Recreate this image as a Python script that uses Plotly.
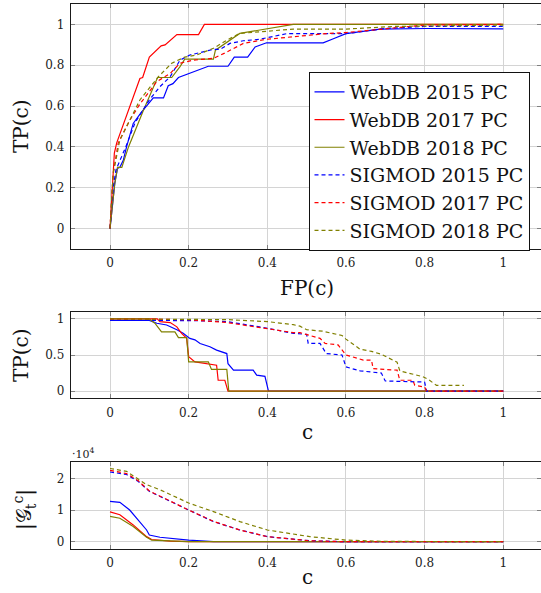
import plotly.graph_objects as go

# ---------------- data ----------------
# ROC (top): FP(c) vs TP(c)
webdb2015_fp = [0, 0.012, 0.019, 0.025, 0.034, 0.042, 0.059, 0.08, 0.11, 0.136, 0.148, 0.16, 0.174, 0.25, 0.30, 0.316, 0.35, 0.369, 0.398, 0.542, 0.568, 0.60, 0.686, 0.805, 1.0]
webdb2015_tp = [0, 0.22, 0.295, 0.30, 0.336, 0.40, 0.515, 0.57, 0.64, 0.64, 0.70, 0.71, 0.74, 0.795, 0.795, 0.84, 0.84, 0.89, 0.91, 0.91, 0.93, 0.955, 0.977, 0.98, 0.978]
webdb2017_fp = [0, 0.011, 0.017, 0.076, 0.083, 0.10, 0.13, 0.14, 0.17, 0.225, 0.24, 1.0]
webdb2017_tp = [0, 0.37, 0.42, 0.735, 0.74, 0.84, 0.895, 0.90, 0.95, 0.95, 1.0, 1.0]
webdb2018_fp = [0, 0.012, 0.019, 0.03, 0.047, 0.085, 0.121, 0.157, 0.178, 0.19, 0.263, 0.268, 0.33, 0.466, 1.0]
webdb2018_tp = [0, 0.22, 0.30, 0.30, 0.40, 0.58, 0.74, 0.74, 0.793, 0.83, 0.83, 0.874, 0.956, 1.0, 1.0]
sigmod2015_fp = [0, 0.008, 0.015, 0.04, 0.064, 0.10, 0.127, 0.153, 0.178, 0.203, 0.263, 0.28, 0.305, 0.339, 0.38, 0.45, 0.6, 0.7, 0.8, 1.0]
sigmod2015_tp = [0, 0.2, 0.287, 0.40, 0.52, 0.63, 0.695, 0.744, 0.825, 0.85, 0.878, 0.878, 0.907, 0.92, 0.927, 0.955, 0.955, 0.98, 0.99, 0.99]
sigmod2017_fp = [0, 0.008, 0.021, 0.05, 0.076, 0.119, 0.153, 0.178, 0.212, 0.263, 0.29, 0.339, 0.398, 0.466, 0.55, 0.6, 0.69, 0.8, 1.0]
sigmod2017_tp = [0, 0.27, 0.42, 0.53, 0.61, 0.72, 0.76, 0.81, 0.825, 0.834, 0.858, 0.907, 0.927, 0.94, 0.955, 0.96, 0.977, 0.997, 1.0]
sigmod2018_fp = [0, 0.008, 0.025, 0.076, 0.123, 0.157, 0.19, 0.22, 0.263, 0.297, 0.33, 0.4, 0.466, 0.6, 0.72, 1.0]
sigmod2018_tp = [0, 0.27, 0.434, 0.63, 0.744, 0.81, 0.84, 0.85, 0.883, 0.923, 0.956, 0.965, 0.977, 0.977, 0.99, 0.997]

# TP(c) vs c (middle)
c_webdb2015 = [0, 0.10, 0.119, 0.144, 0.17, 0.186, 0.203, 0.216, 0.229, 0.254, 0.271, 0.297, 0.30, 0.314, 0.364, 0.373, 0.394, 0.403, 1.0]
tpc_webdb2015 = [0.98, 0.98, 0.94, 0.916, 0.85, 0.80, 0.73, 0.71, 0.66, 0.614, 0.567, 0.52, 0.38, 0.29, 0.29, 0.22, 0.205, 0, 0]
c_webdb2017 = [0, 0.12, 0.127, 0.153, 0.17, 0.182, 0.195, 0.2, 0.216, 0.246, 0.271, 0.275, 0.292, 0.30, 1.0]
tpc_webdb2017 = [1, 1, 0.963, 0.95, 0.89, 0.80, 0.73, 0.475, 0.405, 0.38, 0.358, 0.15, 0.15, 0, 0]
c_webdb2018 = [0, 0.10, 0.114, 0.131, 0.165, 0.174, 0.195, 0.20, 0.25, 0.258, 0.297, 0.302, 1.0]
tpc_webdb2018 = [1, 1, 0.94, 0.82, 0.82, 0.74, 0.74, 0.405, 0.405, 0.30, 0.30, 0, 0]
c_sigmod2015 = [0, 0.21, 0.297, 0.38, 0.466, 0.5, 0.504, 0.534, 0.55, 0.59, 0.6, 0.636, 0.69, 0.7, 0.8, 0.805, 1.0]
tpc_sigmod2015 = [0.98, 0.977, 0.963, 0.89, 0.80, 0.786, 0.66, 0.66, 0.52, 0.50, 0.335, 0.28, 0.25, 0.14, 0.125, 0, 0]
c_sigmod2017 = [0, 0.2, 0.297, 0.38, 0.466, 0.483, 0.534, 0.547, 0.58, 0.6, 0.644, 0.665, 0.669, 0.73, 0.737, 0.77, 0.775, 0.8, 0.805, 1.0]
tpc_sigmod2017 = [1, 0.99, 0.95, 0.88, 0.81, 0.81, 0.73, 0.66, 0.64, 0.5, 0.43, 0.43, 0.31, 0.29, 0.15, 0.15, 0.08, 0.056, 0, 0]
c_sigmod2018 = [0, 0.3, 0.347, 0.4, 0.466, 0.483, 0.5, 0.54, 0.59, 0.6, 0.636, 0.665, 0.69, 0.718, 0.73, 0.737, 0.77, 0.795, 0.81, 0.83, 0.9]
tpc_sigmod2018 = [1, 0.99, 0.977, 0.963, 0.92, 0.9, 0.85, 0.83, 0.77, 0.72, 0.58, 0.55, 0.51, 0.43, 0.40, 0.28, 0.24, 0.2, 0.16, 0.08, 0.08]

# |G_t^c| vs c (bottom)
cg_webdb2015 = [0, 0.025, 0.05, 0.076, 0.093, 0.1, 0.127, 0.2, 0.263, 1.0]
g_webdb2015 = [12700, 12400, 10000, 6350, 3700, 2100, 1400, 500, 0, 0]
cg_webdb2017 = [0, 0.025, 0.059, 0.093, 0.106, 0.153, 0.2, 1.0]
g_webdb2017 = [9400, 8500, 5300, 1600, 700, 200, 0, 0]
cg_webdb2018 = [0, 0.025, 0.059, 0.093, 0.106, 0.2, 1.0]
g_webdb2018 = [8000, 7400, 4800, 1400, 500, 0, 0]
cg_sigmod2015 = [0, 0.042, 0.072, 0.1, 0.2, 0.263, 0.33, 0.4, 0.508, 0.6, 1.0]
g_sigmod2015 = [22000, 21200, 19000, 15900, 10000, 6350, 3700, 1600, 300, 0, 0]
cg_sigmod2017 = [0, 0.042, 0.072, 0.1, 0.2, 0.263, 0.33, 0.4, 0.508, 0.6, 1.0]
g_sigmod2017 = [22500, 21500, 19200, 16000, 10000, 6400, 3700, 1600, 300, 0, 0]
cg_sigmod2018 = [0, 0.042, 0.093, 0.127, 0.2, 0.263, 0.33, 0.4, 0.508, 0.6, 0.7, 1.0]
g_sigmod2018 = [23100, 22200, 18000, 16400, 12200, 9500, 6350, 3700, 1600, 500, 100, 0]

series_names = ["WebDB 2015 PC", "WebDB 2017 PC", "WebDB 2018 PC",
                "SIGMOD 2015 PC", "SIGMOD 2017 PC", "SIGMOD 2018 PC"]

x_ticks = [0, 0.2, 0.4, 0.6, 0.8, 1]
x_ticktext = ["0", "0.2", "0.4", "0.6", "0.8", "1"]
y1_ticks = [0, 0.2, 0.4, 0.6, 0.8, 1]
y1_ticktext = ["0", "0.2", "0.4", "0.6", "0.8", "1"]
y2_ticks = [0, 0.5, 1]
y2_ticktext = ["0", "0.5", "1"]
y3_ticks = [0, 10000, 20000]
y3_ticktext = ["0", "1", "2"]

# ---------------- styling ----------------
FONT = "DejaVu Serif"
colors = ["rgb(0,0,255)", "rgb(255,0,0)", "rgb(128,128,0)"] * 2
dashes = ["solid"] * 3 + ["4px,3px"] * 3
LW = 1.2

top = [(webdb2015_fp, webdb2015_tp), (webdb2017_fp, webdb2017_tp), (webdb2018_fp, webdb2018_tp),
       (sigmod2015_fp, sigmod2015_tp), (sigmod2017_fp, sigmod2017_tp), (sigmod2018_fp, sigmod2018_tp)]
mid = [(c_webdb2015, tpc_webdb2015), (c_webdb2017, tpc_webdb2017), (c_webdb2018, tpc_webdb2018),
       (c_sigmod2015, tpc_sigmod2015), (c_sigmod2017, tpc_sigmod2017), (c_sigmod2018, tpc_sigmod2018)]
bot = [(cg_webdb2015, g_webdb2015), (cg_webdb2017, g_webdb2017), (cg_webdb2018, g_webdb2018),
       (cg_sigmod2015, g_sigmod2015), (cg_sigmod2017, g_sigmod2017), (cg_sigmod2018, g_sigmod2018)]

fig = go.Figure()
for i, (x, y) in enumerate(top):
    fig.add_trace(go.Scatter(x=x, y=y, mode="lines", name=series_names[i],
                             line=dict(color=colors[i], width=LW, dash=dashes[i]),
                             xaxis="x", yaxis="y", showlegend=True))
for i, (x, y) in enumerate(mid):
    fig.add_trace(go.Scatter(x=x, y=y, mode="lines", name=series_names[i],
                             line=dict(color=colors[i], width=LW, dash=dashes[i]),
                             xaxis="x2", yaxis="y2", showlegend=False))
for i, (x, y) in enumerate(bot):
    fig.add_trace(go.Scatter(x=x, y=y, mode="lines", name=series_names[i],
                             line=dict(color=colors[i], width=LW, dash=dashes[i]),
                             xaxis="x3", yaxis="y3", showlegend=False))

W, H = 541, 593
x_dom = [70.7 / W, 1.0]


def ydom(top_px, bot_px):
    return [1 - bot_px / H, 1 - top_px / H]


common_axis = dict(showline=True, mirror="ticks", linecolor="#1a1a1a", linewidth=1,
                   showgrid=True, gridcolor="#d4d4d4", gridwidth=1, zeroline=False,
                   ticks="inside", ticklen=4, tickcolor="#808080",
                   tickfont=dict(family=FONT, size=12, color="#222"),
                   ticklabelstandoff=3)

xr = [-0.1, 1.096]
layout_axes = {}
for k, (anchor, dom_y) in enumerate([("y", ydom(4, 249)), ("y2", ydom(311.7, 398.3)), ("y3", ydom(462.3, 549))]):
    xa = "xaxis" if k == 0 else f"xaxis{k+1}"
    layout_axes[xa] = dict(common_axis, domain=x_dom, anchor=anchor, range=xr,
                           tickvals=x_ticks, ticktext=x_ticktext)

layout_axes["yaxis"] = dict(common_axis, domain=ydom(4, 249), anchor="x", range=[-0.1, 1.1],
                            tickvals=y1_ticks, ticktext=y1_ticktext)
layout_axes["yaxis2"] = dict(common_axis, domain=ydom(311.7, 398.3), anchor="x2", range=[-0.1, 1.1],
                             tickvals=y2_ticks, ticktext=y2_ticktext)
layout_axes["yaxis3"] = dict(common_axis, domain=ydom(462.3, 549), anchor="x3", range=[-2300, 25050],
                             tickvals=y3_ticks, ticktext=y3_ticktext)

title_font = dict(family=FONT, size=20, color="#111")
annotations = [
    dict(text="TP(c)", x=21 / W, y=1 - 126 / H, textangle=-90),
    dict(text="FP(c)", x=307 / W, y=1 - 288 / H),
    dict(text="TP(c)", x=21 / W, y=1 - 355 / H, textangle=-90),
    dict(text="c", x=307 / W, y=1 - 432 / H),
    dict(text="|𝒢<sub>t</sub><sup>c</sup>|", x=24 / W, y=1 - 510 / H, textangle=-90),
    dict(text="c", x=307 / W, y=1 - 577 / H),
]
for a in annotations:
    a.update(xref="paper", yref="paper", showarrow=False, font=title_font,
             xanchor="center", yanchor="middle")
annotations.append(dict(text="·10<sup>4</sup>", x=70 / W, y=1 - 453 / H, xref="paper", yref="paper",
                        showarrow=False, font=dict(family=FONT, size=11, color="#222"),
                        xanchor="left", yanchor="middle"))

fig.update_layout(
    width=W, height=H,
    margin=dict(l=0, r=0, t=0, b=0),
    paper_bgcolor="white", plot_bgcolor="white",
    font=dict(family=FONT, color="#111"),
    showlegend=True,
    legend=dict(x=419 / W, y=1 - 161.5 / H, xanchor="center", yanchor="middle",
                bgcolor="white", bordercolor="#111", borderwidth=1,
                font=dict(family=FONT, size=19, color="#111"),
                tracegroupgap=0, itemwidth=30),
    annotations=annotations,
    **layout_axes,
)

fig.write_html("out.html", config={"displayModeBar": False},
               post_script="document.body.style.margin='0';document.body.style.padding='0';")
